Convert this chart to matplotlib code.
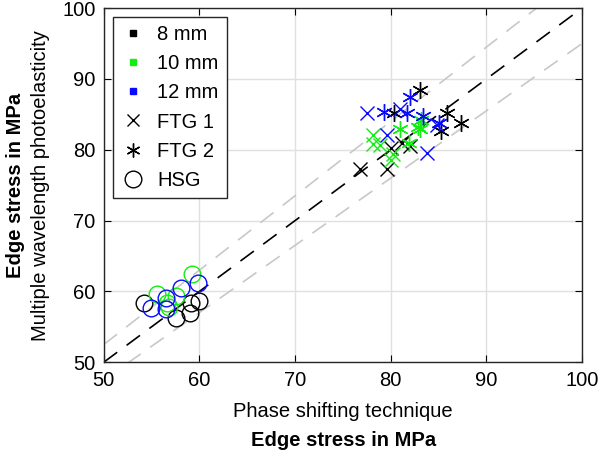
import matplotlib
matplotlib.use("Agg")
import matplotlib.pyplot as plt
from matplotlib.lines import Line2D
import numpy as np

plt.rcParams['font.family'] = ['Liberation Sans', 'DejaVu Sans']

# colours of the three glass thicknesses
col_8 = 'black'
col_10 = '#11ee11'
col_12 = '#0a0aff'

# 8 mm
ftg1_8_x = [76.8, 79.6, 80.0, 81.2, 82.0]
ftg1_8_y = [77.3, 77.3, 80.3, 80.9, 80.5]
ftg2_8_x = [80.3, 83.1, 85.9, 85.3, 87.3]
ftg2_8_y = [85.2, 88.4, 85.2, 82.6, 83.8]
hsg_8_x = [54.2, 57.6, 59.1, 60.0, 59.0]
hsg_8_y = [58.4, 56.2, 58.4, 58.6, 57.0]

# 10 mm
ftg1_10_x = [78.1, 78.1, 78.9, 80.0, 80.2]
ftg1_10_y = [82.1, 80.8, 80.7, 78.6, 79.4]
ftg2_10_x = [81.0, 82.9, 83.2, 81.9, 83.1]
ftg2_10_y = [82.9, 83.2, 84.2, 80.9, 83.0]
hsg_10_x = [59.2, 57.6, 55.6, 56.6, 56.8]
hsg_10_y = [62.5, 59.3, 59.6, 58.4, 57.8]

# 12 mm
ftg1_12_x = [77.5, 81.0, 79.6, 83.8, 84.8]
ftg1_12_y = [85.2, 85.8, 82.1, 79.5, 83.5]
ftg2_12_x = [79.3, 81.7, 82.0, 83.4, 85.0]
ftg2_12_y = [85.3, 85.2, 87.4, 84.8, 83.8]
hsg_12_x = [58.1, 59.8, 56.5, 54.9, 56.5]
hsg_12_y = [60.5, 61.2, 59.1, 57.6, 57.5]

ticks = [50, 60, 70, 80, 90, 100]
band = [0.95, 1.05]

fig = plt.figure(figsize=(6, 4.55), dpi=100)
ax = fig.add_axes([0.173, 0.204, 0.797, 0.778])

line = np.array([50, 100])
ax.plot(line, line, color='k', ls=(0, (10, 7)), lw=1.2, zorder=2)
for f in band:
    ax.plot(line, line * f, color='#c8c8c8', ls=(0, (10, 7)), lw=1.2, zorder=1)

groups = [
    (col_8, ftg1_8_x, ftg1_8_y, ftg2_8_x, ftg2_8_y, hsg_8_x, hsg_8_y),
    (col_10, ftg1_10_x, ftg1_10_y, ftg2_10_x, ftg2_10_y, hsg_10_x, hsg_10_y),
    (col_12, ftg1_12_x, ftg1_12_y, ftg2_12_x, ftg2_12_y, hsg_12_x, hsg_12_y),
]
for c, x1, y1, x2, y2, x3, y3 in groups:
    ax.plot(x1, y1, ls='none', marker='x', ms=10, mew=1.0, color=c, zorder=3)
    ax.plot(x2, y2, ls='none', marker=(6, 2, 0), ms=12, mew=1.0, color=c, zorder=3)
    ax.plot(x3, y3, ls='none', marker='o', ms=12, mew=1.0, mfc='none', mec=c, zorder=3)

ax.set_xlim(50, 100)
ax.set_ylim(50, 100)
ax.set_xticks(ticks)
ax.set_yticks(ticks)
ax.grid(True, color='#e0e0e0', lw=1)
ax.set_axisbelow(True)
ax.tick_params(direction='in', top=True, right=True, labelsize=14.5, length=5, pad=6)
for s in ax.spines.values():
    s.set_linewidth(1.0)
    s.set_color('#262626')

ax.set_xlabel('Phase shifting technique', fontsize=14.5, labelpad=9)
ax.set_ylabel('Multiple wavelength photoelasticity', fontsize=14.5, labelpad=9)
fig.text(0.572, 0.031, 'Edge stress in MPa', fontsize=14.5, fontweight='bold',
         ha='center', va='center')
fig.text(0.026, 0.593, 'Edge stress in MPa', fontsize=14.5, fontweight='bold',
         ha='center', va='center', rotation=90)

handles = [
    Line2D([], [], ls='none', marker='s', ms=5, color=col_8),
    Line2D([], [], ls='none', marker='s', ms=5, color=col_10),
    Line2D([], [], ls='none', marker='s', ms=5, color=col_12),
    Line2D([], [], ls='none', marker='x', ms=8, mew=1, color='k'),
    Line2D([], [], ls='none', marker=(6, 2, 0), ms=10, mew=1, color='k'),
    Line2D([], [], ls='none', marker='o', ms=12, mew=1, mfc='none', mec='k'),
]
labels = ['8 mm', '10 mm', '12 mm', 'FTG 1', 'FTG 2', 'HSG']
leg = ax.legend(handles, labels, loc='upper left', fontsize=14.5, fancybox=False,
                edgecolor='#262626', framealpha=1, handlelength=1.2,
                handletextpad=0.6, labelspacing=0.5, borderaxespad=0.45,
                borderpad=0.4)
leg.get_frame().set_linewidth(1.0)

fig.savefig('out.png', dpi=100)
